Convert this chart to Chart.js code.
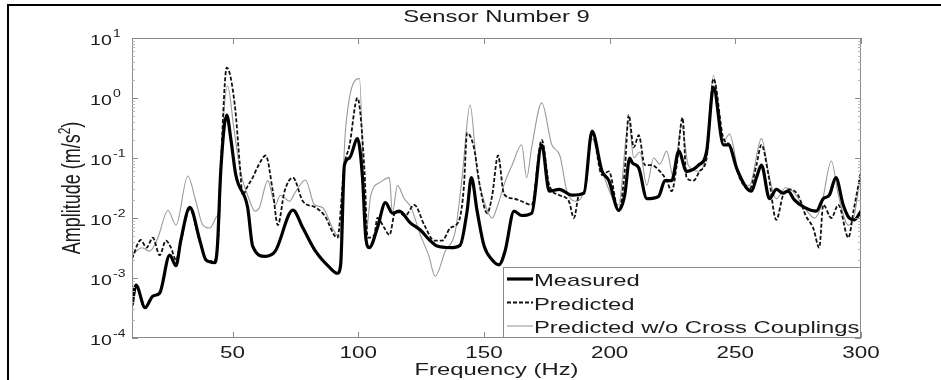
<!DOCTYPE html>
<html>
<head>
<meta charset="utf-8">
<title>Sensor Number 9</title>
<script src="https://cdn.jsdelivr.net/npm/chart.js@4/dist/chart.umd.min.js"></script>
<style>
  html, body { margin: 0; padding: 0; background: #fff; }
  canvas { display: block; }
</style>
</head>
<body>
<canvas id="sensor9" width="941" height="380"></canvas>
<script>
// Frequency (Hz) and amplitude (m/s^2)
var measFreq = [10, 11.6, 15.2, 18.3, 21, 25, 27.5, 29.4, 33, 37, 39.4, 43, 44, 45.3, 47.7, 49.3, 51.3, 56, 58, 63,
  67, 74, 78, 83, 88.6, 91.7, 93, 94.5, 96.5, 99.7, 101.7, 103, 104.4, 107.6, 110.8, 113.6, 116.3, 120.7, 124.7, 128.6,
  131.4, 136.6, 140.5, 143.3, 145, 147.3, 150, 153.3, 156, 158.4, 162, 165, 169, 173, 176, 180, 185, 189.8, 193, 197,
  199.7, 203.6, 206, 208, 209, 211.6, 214.8, 219.5, 222, 224.7, 227.5, 230.6, 235.4, 238.6, 241.3, 245.3, 247.3, 250.5, 254.4, 256.4,
  258.4, 260.4, 263.6, 266.3, 269, 271, 273.5, 277.5, 282.2, 285, 287.4, 290, 292.9, 295.3, 297.3, 300];
var measAmp = [3.5e-4, 7.6e-4, 3.2e-4, 5.0e-4, 5.6e-4, 2.4e-3, 1.6e-3, 4.2e-3, 1.5e-2, 4.2e-3, 2.0e-3, 1.8e-3, 3.5e-3, 6.0e-2, 0.52, 0.21, 5.2e-2, 1.5e-2, 3.4e-3, 2.3e-3,
  2.8e-3, 1.35e-2, 6.8e-3, 2.8e-3, 1.5e-3, 1.2e-3, 1.66e-3, 7.6e-2, 0.1, 0.21, 4.7e-2, 4.7e-3, 3.2e-3, 6.8e-3, 1.8e-2, 1.2e-2, 1.3e-2, 8.3e-3, 6.3e-3, 4.2e-3,
  3.4e-3, 3.2e-3, 3.5e-3, 1.3e-2, 4.7e-2, 1.3e-2, 3.5e-3, 2.0e-3, 1.66e-3, 2.8e-3, 1.3e-2, 1.1e-2, 1.2e-2, 0.166, 2.8e-2, 3.0e-2, 2.4e-2, 2.6e-2, 0.28, 6.0e-2,
  4.2e-2, 1.35e-2, 2.4e-2, 0.1, 8.3e-2, 6.8e-2, 2.1e-2, 2.3e-2, 4.2e-2, 4.2e-2, 0.13, 6.0e-2, 7.6e-2, 0.13, 1.5, 0.166, 0.166, 6.8e-2, 3.2e-2, 2.8e-2,
  4.7e-2, 7.6e-2, 2.1e-2, 3.0e-2, 2.6e-2, 2.8e-2, 2.0e-2, 1.5e-2, 1.3e-2, 2.1e-2, 2.4e-2, 4.7e-2, 1.66e-2, 1.0e-2, 9.3e-3, 1.3e-2];

var predFreq = [10, 13.5, 15.8, 18.3, 21, 23.5, 25.5, 27.5, 29.4, 33, 37, 40, 43, 44.5, 45.5, 47.7, 50.9, 52.9, 54, 56,
  58, 60, 63.2, 66, 68, 70.7, 74, 78, 83, 86.6, 91.7, 94.5, 96.5, 99.7, 102.5, 103.7, 106.4, 107.6, 110.4, 112.4,
  114.8, 118.7, 122.3, 126.3, 130.2, 133.4, 136.6, 140.2, 142, 143.3, 146, 148.5, 151.3, 153.3, 155.6, 158, 162, 165, 169, 173,
  176, 180, 183.8, 185.8, 187.8, 190, 193, 197, 199.7, 203.6, 206, 207.6, 209.6, 211.6, 214, 216.7, 220, 222.7, 224.7, 226.7,
  229, 230.6, 233.4, 235.8, 238.6, 241.3, 245.3, 247.7, 251.7, 255.6, 258.4, 260.4, 263.2, 266.3, 269, 271.5, 275, 278, 281, 283.4,
  285, 288.2, 291, 295, 297, 300];
var predAmp = [2.1e-3, 4.3e-3, 3.2e-3, 4.7e-3, 2.4e-3, 4.2e-3, 3.2e-3, 2.0e-3, 4.0e-3, 1.4e-2, 4.0e-3, 1.9e-3, 2.0e-3, 6.3e-3, 0.1, 3.2, 0.76, 7.6e-2, 2.4e-2, 3.4e-2,
  4.7e-2, 7.1e-2, 0.11, 2.8e-2, 7.6e-3, 2.8e-2, 4.7e-2, 1.9e-2, 1.5e-2, 1.1e-2, 4.7e-3, 7.6e-2, 0.16, 1.0, 6.0e-2, 4.7e-3, 5.2e-3, 1.0e-2, 6.8e-3, 5.2e-3,
  1.3e-2, 1.1e-2, 1.66e-2, 7.6e-3, 4.2e-3, 4.2e-3, 6.8e-3, 9.3e-3, 3.2e-2, 0.26, 0.15, 3.2e-2, 1.2e-2, 2.4e-2, 0.11, 2.5e-2, 2.1e-2, 1.9e-2, 1.66e-2, 0.2,
  3.5e-2, 2.4e-2, 1.9e-2, 1.0e-2, 2.4e-2, 2.8e-2, 0.26, 5.2e-2, 6.0e-2, 1.3e-2, 6.0e-2, 0.52, 0.15, 0.24, 7.6e-2, 7.6e-2, 6.0e-2, 4.2e-2, 2.8e-2, 7.6e-2,
  0.47, 4.7e-2, 4.2e-2, 6.0e-2, 0.1, 2.1, 0.21, 0.166, 4.7e-2, 3.0e-2, 7.6e-2, 0.166, 5.2e-2, 9.3e-3, 2.4e-2, 3.0e-2, 2.4e-2, 1.1e-2, 6.8e-3, 3.2e-3,
  1.66e-2, 1.0e-2, 1.66e-2, 4.7e-3, 1.3e-2, 6.0e-2];

var nccFreq = [10, 14, 17, 20.3, 24.3, 27.5, 32.2, 35.4, 38.2, 41, 43.3, 44.8, 46, 48, 50.5, 53, 56, 59, 60.7, 64,
  67, 69, 72.7, 74.5, 79, 82.6, 85.8, 89.8, 92.5, 95, 100.5, 103, 105, 109, 112.4, 113.6, 115.6, 118.3, 121, 124.7,
  128, 130.6, 134.6, 138.6, 141.3, 144.5, 147.3, 150.5, 153.3, 155.2, 158.4, 161.2, 165, 167, 169, 173, 177, 180.2, 183, 186.2,
  189.8, 193, 197, 203.6, 207.6, 209.6, 212, 214.8, 217.5, 220, 222.7, 225.4, 228.6, 231.3, 235.4, 238.6, 241.3, 245.3, 247.7, 251.7,
  255.6, 260.4, 263.6, 266.3, 270, 272.8, 277.5, 281.5, 284.3, 288.2, 291, 295, 297.3, 300];
var nccAmp = [2.4e-3, 3.2e-3, 2.8e-3, 4.7e-3, 1.35e-2, 7.6e-3, 5.0e-2, 1.9e-2, 7.6e-3, 6.8e-3, 1.0e-2, 1.6e-2, 0.25, 1.6, 0.32, 6.3e-2, 2.4e-2, 1.3e-2, 1.5e-2, 4.2e-2,
  1.66e-2, 2.4e-2, 1.9e-2, 2.5e-2, 4.3e-2, 1.66e-2, 1.5e-2, 6.8e-3, 4.7e-3, 0.32, 2.1, 5.2e-3, 2.4e-2, 4.0e-2, 4.7e-2, 1.2e-2, 3.5e-2, 2.1e-2, 1.5e-2, 5.2e-3,
  2.4e-3, 1.07e-3, 2.8e-3, 6.0e-3, 4.7e-2, 0.76, 6.0e-2, 1.66e-2, 1.0e-2, 1.5e-2, 4.0e-2, 7.6e-2, 0.166, 4.7e-2, 0.15, 0.83, 0.166, 0.11, 2.8e-2, 1.9e-2,
  2.8e-2, 0.21, 6.0e-2, 1.66e-2, 0.42, 0.1, 0.126, 3.5e-2, 0.1, 7.9e-2, 0.13, 4.7e-2, 0.35, 7.6e-2, 6.0e-2, 0.13, 2.4, 0.19, 0.25, 4.7e-2,
  3.5e-2, 0.21, 4.7e-2, 2.1e-2, 3.2e-2, 2.8e-2, 1.5e-2, 1.0e-2, 1.66e-2, 8.9e-2, 2.4e-2, 7.6e-3, 1.1e-2, 6.0e-2];

var seriesNames = ['Measured', 'Predicted', 'Predicted w/o Cross Couplings'];
var xTicks = [50, 100, 150, 200, 250, 300];
var yExponents = [1, 0, -1, -2, -3, -4];

var SX = 1.4; // the source figure is stretched sideways, so is its text
var FONT = '"Liberation Sans", Arial, sans-serif';
var INK = '#1c1c1c';

function toPoints(xs, ys) {
  return xs.map(function (x, i) { return { x: x, y: ys[i] }; });
}

function stretchText(ctx, s, x, y, size, align) {
  ctx.save();
  ctx.translate(x, y);
  ctx.scale(SX, 1);
  ctx.font = size + 'px ' + FONT;
  ctx.textAlign = align || 'left';
  ctx.textBaseline = 'alphabetic';
  ctx.fillStyle = INK;
  ctx.fillText(s, 0, 0);
  ctx.restore();
}

// frame, axis box, ticks, labels and the legend, MATLAB style
var figureDecor = {
  id: 'figureDecor',
  beforeDraw: function (chart) {
    var ctx = chart.ctx;
    ctx.save();
    ctx.fillStyle = '#fff';
    ctx.fillRect(0, 0, chart.width, chart.height);
    ctx.fillStyle = '#000';
    ctx.fillRect(7, 4, chart.width - 7, 2);
    ctx.fillRect(7, 4, 2, chart.height - 4);
    ctx.restore();
  },
  afterDatasetsDraw: function (chart) {
    var ctx = chart.ctx;
    var a = chart.chartArea;
    var xs = chart.scales.x, ys = chart.scales.y;
    ctx.save();
    ctx.strokeStyle = '#8a8a8a';
    ctx.lineWidth = 1;
    ctx.strokeRect(a.left + 0.5, a.top + 0.5, a.right - a.left - 1, a.bottom - a.top - 1);

    ctx.beginPath();
    xTicks.forEach(function (v) {
      var px = Math.round(xs.getPixelForValue(v)) + 0.5;
      ctx.moveTo(px, a.bottom); ctx.lineTo(px, a.bottom - 6);
      ctx.moveTo(px, a.top); ctx.lineTo(px, a.top + 6);
    });
    yExponents.forEach(function (e) {
      var py = Math.round(ys.getPixelForValue(Math.pow(10, e))) + 0.5;
      ctx.moveTo(a.left, py); ctx.lineTo(a.left + 6, py);
      ctx.moveTo(a.right, py); ctx.lineTo(a.right - 6, py);
    });
    ctx.stroke();

    // minor log ticks
    ctx.strokeStyle = '#b5b5b5';
    ctx.beginPath();
    for (var e = -4; e < 1; e++) {
      for (var k = 2; k < 10; k++) {
        var py = Math.round(ys.getPixelForValue(k * Math.pow(10, e))) + 0.5;
        ctx.moveTo(a.left, py); ctx.lineTo(a.left + 3, py);
        ctx.moveTo(a.right, py); ctx.lineTo(a.right - 3, py);
      }
    }
    ctx.stroke();
    ctx.restore();

    // tick labels
    xTicks.forEach(function (v) {
      stretchText(ctx, String(v), xs.getPixelForValue(v), a.bottom + 20, 16, 'center');
    });
    yExponents.forEach(function (e) {
      var py = ys.getPixelForValue(Math.pow(10, e));
      stretchText(ctx, '10', 90, py + 7, 14, 'left');
      stretchText(ctx, String(e), 113, py - 1, 10, 'left');
    });

    // titles
    var cx = (a.left + a.right) / 2;
    stretchText(ctx, 'Sensor Number 9', cx, 22, 17, 'center');
    stretchText(ctx, 'Frequency (Hz)', cx, 375, 17, 'center');

    ctx.save();
    ctx.translate(80, (a.top + a.bottom) / 2);
    ctx.scale(SX, 1);
    ctx.rotate(-Math.PI / 2);
    ctx.fillStyle = INK;
    ctx.textBaseline = 'alphabetic';
    ctx.textAlign = 'left';
    var big = '18px ' + FONT, small = '12px ' + FONT;
    ctx.font = big;
    var w1 = ctx.measureText('Amplitude (m/s').width;
    var w3 = ctx.measureText(')').width;
    ctx.font = small;
    var w2 = ctx.measureText('2').width;
    var x0 = -(w1 + w2 + w3) / 2;
    ctx.font = big;
    ctx.fillText('Amplitude (m/s', x0, 0);
    ctx.fillText(')', x0 + w1 + w2, 0);
    ctx.font = small;
    ctx.fillText('2', x0 + w1, -7);
    ctx.restore();

    // legend box in the lower right corner
    var lx = a.right - 358, ly = a.bottom - 71;
    ctx.save();
    ctx.fillStyle = '#fff';
    ctx.fillRect(lx, ly, a.right - lx, a.bottom - ly);
    ctx.strokeStyle = '#8a8a8a';
    ctx.strokeRect(lx + 0.5, ly + 0.5, a.right - lx - 1, a.bottom - ly - 1);
    chart.data.datasets.forEach(function (ds, i) {
      var yy = ly + 12 + i * 23.5;
      ctx.beginPath();
      ctx.strokeStyle = ds.borderColor;
      ctx.lineWidth = ds.borderWidth;
      ctx.setLineDash(ds.borderDash || []);
      ctx.moveTo(lx + 4, yy);
      ctx.lineTo(lx + 30, yy);
      ctx.stroke();
      ctx.setLineDash([]);
      stretchText(ctx, ds.label, lx + 31, yy + 7, 17, 'left');
    });
    ctx.restore();
  }
};

new Chart(document.getElementById('sensor9'), {
  type: 'line',
  data: {
    datasets: [{
      label: seriesNames[0],
      data: toPoints(measFreq, measAmp),
      borderColor: '#000',
      borderWidth: 3.2
    }, {
      label: seriesNames[1],
      data: toPoints(predFreq, predAmp),
      borderColor: '#111',
      borderWidth: 1.8,
      borderDash: [4, 2]
    }, {
      label: seriesNames[2],
      data: toPoints(nccFreq, nccAmp),
      borderColor: '#9a9a9a',
      borderWidth: 1.1
    }]
  },
  options: {
    responsive: false,
    animation: false,
    layout: { padding: { left: 132, right: 80, top: 38, bottom: 42 } },
    elements: {
      point: { radius: 0 },
      line: { tension: 0.3, cubicInterpolationMode: 'monotone' }
    },
    scales: {
      x: { type: 'linear', display: false, min: 10, max: 300 },
      y: { type: 'logarithmic', display: false, min: 1e-4, max: 10 }
    },
    plugins: {
      legend: { display: false },
      tooltip: { enabled: false }
    }
  },
  plugins: [figureDecor]
});
</script>
</body>
</html>
